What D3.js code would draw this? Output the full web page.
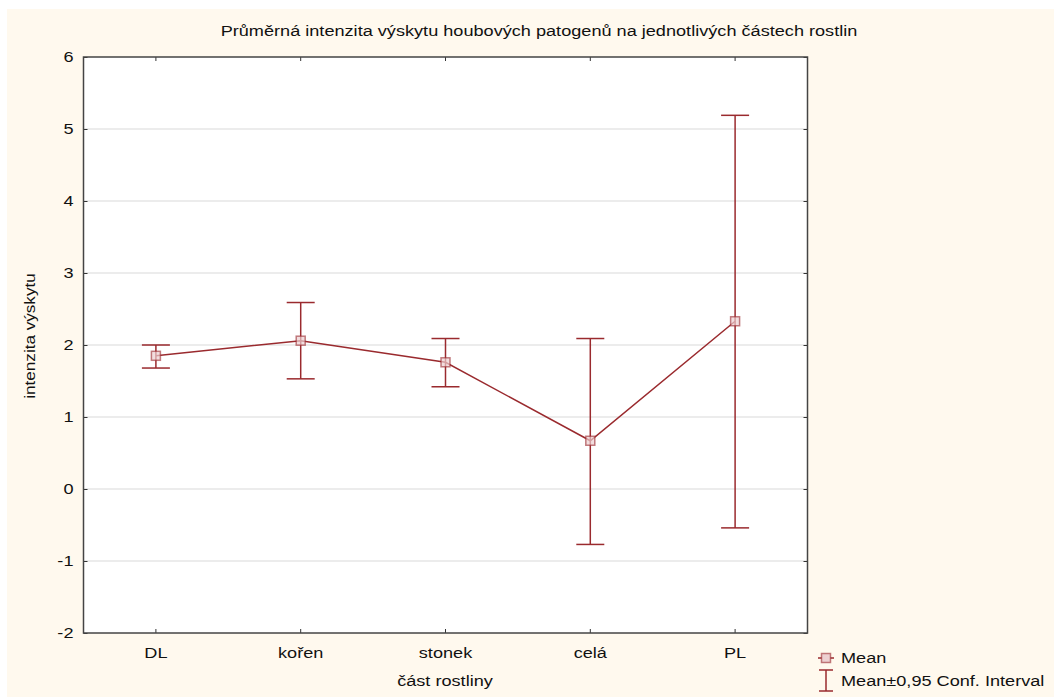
<!DOCTYPE html>
<html lang="cs">
<head>
<meta charset="UTF-8">
<title>Intenzita výskytu</title>
<style>
    body{margin:0;background:#fff;}
    svg{display:block;font-family:"Liberation Sans",Arial,sans-serif;}
</style>
<script src="https://cdn.jsdelivr.net/npm/d3@7"></script>
</head>
<body>
<script>
    const categories = ["DL", "kořen", "stonek", "celá", "PL"]
    const means = [1.85, 2.06, 1.76, 0.67, 2.33]
    const upper = [2.00, 2.59, 2.09, 2.09, 5.19]
    const lower = [1.68, 1.53, 1.42, -0.77, -0.54]
    const yTicks = [-2, -1, 0, 1, 2, 3, 4, 5, 6]

    const W = 1054, H = 697
    const m = {left: 83.5, right: 807.5, top: 57, bottom: 633}
    const red = "#9a2a2e"
    const sx = 1.21   // the original text is a bit wider than Liberation Sans

    let svg = d3.select("body").append("svg")
        .attr("width", W).attr("height", H)

    // cream background
    svg.append("rect").attr("x", 7).attr("y", 9)
        .attr("width", W - 7).attr("height", H - 9)
        .attr("fill", "#fff9ee")

    let x = d3.scaleBand().domain(categories).range([m.left, m.right])
    let y = d3.scaleLinear().domain([-2, 6]).range([m.bottom, m.top])

    svg.append("rect").attr("x", m.left).attr("y", m.top)
        .attr("width", m.right - m.left).attr("height", m.bottom - m.top)
        .attr("fill", "#fff")

    // grid
    svg.append("g").selectAll("line")
        .data(yTicks.slice(1, -1))
        .enter().append("line")
        .attr("x1", m.left).attr("x2", m.right)
        .attr("y1", d => y(d)).attr("y2", d => y(d))
        .attr("stroke", "#d9d9d9").attr("stroke-width", 1)

    // axes
    svg.append("g").attr("transform", `translate(${m.left},0)`)
        .call(d3.axisLeft(y).tickValues(yTicks).tickSize(-4).tickPadding(0).tickFormat(d => String(d)))
        .selectAll("text").attr("x", 0)
        .attr("transform", `translate(-10,0) scale(${sx},1)`)
    svg.append("g").attr("transform", `translate(0,${m.bottom})`)
        .call(d3.axisBottom(x).tickSize(-4).tickPadding(14))
        .selectAll("text").attr("transform", `scale(${sx},1)`)
    svg.append("g").attr("transform", `translate(0,${m.top})`)
        .call(d3.axisTop(x).tickSize(-4).tickFormat(""))
    svg.append("g").attr("transform", `translate(${m.right},0)`)
        .call(d3.axisRight(y).tickValues(yTicks).tickSize(-4).tickFormat(""))

    svg.selectAll(".domain").remove()
    svg.selectAll(".tick line").attr("stroke", "#333")
    svg.selectAll(".tick text").attr("font-size", 15).attr("fill", "#111")
        .attr("font-family", "Liberation Sans, Arial, sans-serif")

    svg.append("rect").attr("x", m.left).attr("y", m.top)
        .attr("width", m.right - m.left).attr("height", m.bottom - m.top)
        .attr("fill", "none").attr("stroke", "#444").attr("stroke-width", 1.5)

    let cx = d => x(d) + x.bandwidth() / 2
    let pts = categories.map((c, i) => ({c: c, mean: means[i], hi: upper[i], lo: lower[i]}))

    // whiskers
    let g = svg.append("g").attr("stroke", red).attr("stroke-width", 1.5)
    g.selectAll(".v").data(pts).enter().append("line")
        .attr("x1", d => cx(d.c)).attr("x2", d => cx(d.c))
        .attr("y1", d => y(d.hi)).attr("y2", d => y(d.lo))
    g.selectAll(".hi").data(pts).enter().append("line")
        .attr("x1", d => cx(d.c) - 14).attr("x2", d => cx(d.c) + 14)
        .attr("y1", d => y(d.hi)).attr("y2", d => y(d.hi))
    g.selectAll(".lo").data(pts).enter().append("line")
        .attr("x1", d => cx(d.c) - 14).attr("x2", d => cx(d.c) + 14)
        .attr("y1", d => y(d.lo)).attr("y2", d => y(d.lo))

    // mean line
    svg.append("path").datum(pts)
        .attr("d", d3.line().x(d => cx(d.c)).y(d => y(d.mean)))
        .attr("fill", "none").attr("stroke", red).attr("stroke-width", 1.5)

    svg.append("g").selectAll("rect").data(pts).enter().append("rect")
        .attr("x", d => cx(d.c) - 4.5).attr("y", d => y(d.mean) - 4.5)
        .attr("width", 9).attr("height", 9)
        .attr("fill", "#edd0d1").attr("fill-opacity", 0.7)
        .attr("stroke", red).attr("stroke-width", 1.5).attr("stroke-opacity", 0.6)

    // stretched text helper
    function label(px, py, txt, anchor) {
        return svg.append("text")
            .attr("transform", `translate(${px},${py}) scale(${sx},1)`)
            .attr("text-anchor", anchor).attr("font-size", 15).attr("fill", "#111")
            .text(txt)
    }

    label(539, 36, "Průměrná intenzita výskytu houbových patogenů na jednotlivých částech rostlin", "middle")
    svg.append("text").attr("transform", "translate(35,336) rotate(-90) scale(1.14,1)")
        .attr("text-anchor", "middle").attr("font-size", 15).attr("fill", "#111")
        .text("intenzita výskytu")
    label(445, 686, "část rostliny", "middle")

    // legend
    let lg = svg.append("g")
    lg.append("line").attr("x1", 818).attr("x2", 834).attr("y1", 658).attr("y2", 658)
        .attr("stroke", red).attr("stroke-width", 1.5)
    lg.append("rect").attr("x", 821.5).attr("y", 653.5).attr("width", 9).attr("height", 9)
        .attr("fill", "#edd0d1").attr("stroke", red).attr("stroke-width", 1.5).attr("stroke-opacity", 0.6)
    label(841, 663, "Mean", "start")
    lg.append("line").attr("x1", 826).attr("x2", 826).attr("y1", 670).attr("y2", 691)
        .attr("stroke", red).attr("stroke-width", 1.5)
    lg.append("line").attr("x1", 819).attr("x2", 833).attr("y1", 670).attr("y2", 670)
        .attr("stroke", red).attr("stroke-width", 1.5)
    lg.append("line").attr("x1", 819).attr("x2", 833).attr("y1", 691).attr("y2", 691)
        .attr("stroke", red).attr("stroke-width", 1.5)
    label(841, 686, "Mean±0,95 Conf. Interval", "start")
</script>
</body>
</html>
